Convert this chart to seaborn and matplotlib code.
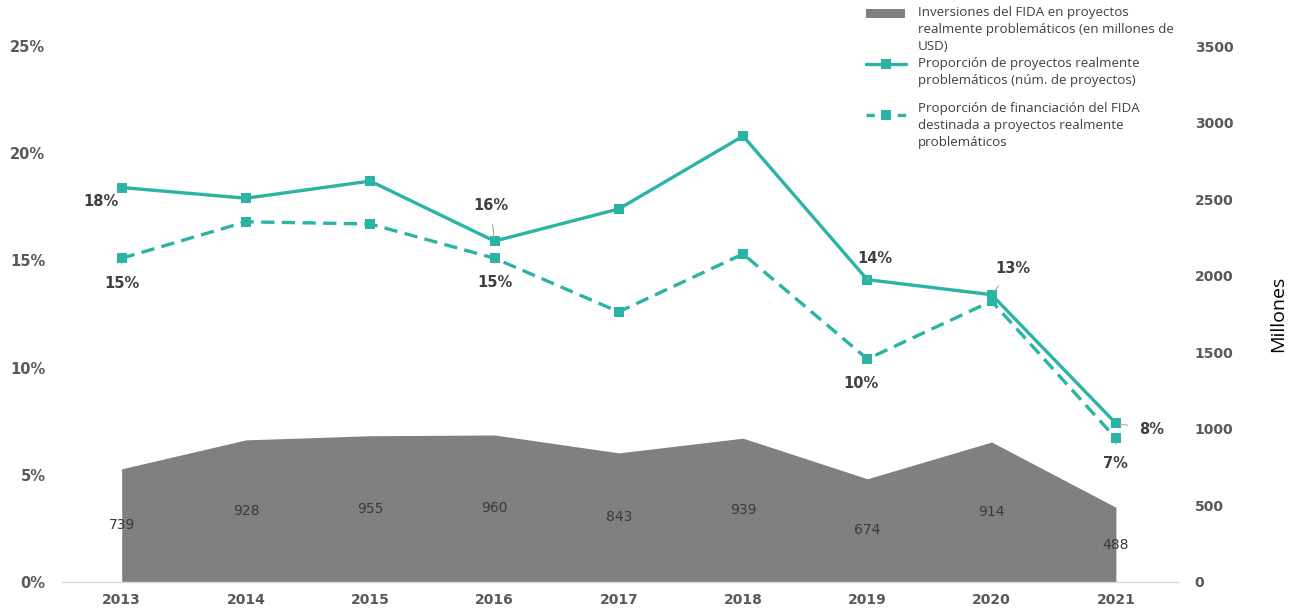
import numpy as np
import pandas as pd
import seaborn as sns
import matplotlib.pyplot as plt
from matplotlib.lines import Line2D
from matplotlib.patches import Rectangle

# ----------------------------
# Data
# ----------------------------
years = [2013, 2014, 2015, 2016, 2017, 2018, 2019, 2020, 2021]
inversion_musd = [739, 928, 955, 960, 843, 939, 674, 914, 488]
prop_proyectos = [18.4, 17.9, 18.7, 15.9, 17.4, 20.8, 14.1, 13.4, 7.4]
prop_financiacion = [15.1, 16.8, 16.7, 15.1, 12.6, 15.3, 10.4, 13.1, 6.7]

# which points carry a percentage label
labels_proyectos = {2013: "18%", 2016: "16%", 2019: "14%", 2020: "13%", 2021: "8%"}
labels_financiacion = {2013: "15%", 2016: "15%", 2019: "10%", 2021: "7%"}

legend_labels = [
    "Inversiones del FIDA en proyectos\nrealmente problemáticos (en millones de\nUSD)",
    "Proporción de proyectos realmente\nproblemáticos (núm. de proyectos)",
    "Proporción de financiación del FIDA\ndestinada a proyectos realmente\nproblemáticos",
]

left_ticks = [0, 5, 10, 15, 20, 25]
right_ticks = [0, 500, 1000, 1500, 2000, 2500, 3000, 3500]

df = pd.DataFrame({
    "year": years,
    "inversion": inversion_musd,
    "proyectos": prop_proyectos,
    "financiacion": prop_financiacion,
})

TEAL = "#2bb3a3"
GRAY = "#808080"
TICK = "#595959"
LABEL = "#404040"

sns.set_theme(style="white")
plt.rcParams["font.family"] = ["DejaVu Sans"]

fig = plt.figure(figsize=(13.03, 6.11), dpi=100)
ax = fig.add_axes([0.0476, 0.0475, 0.8565, 0.8772])
ax2 = ax.twinx()

# ----------------------------
# Area (millions, right axis)
# ----------------------------
ax2.fill_between(df["year"], 0, df["inversion"], color=GRAY, linewidth=0)
for x, v in zip(df["year"], df["inversion"]):
    ax2.text(x, v / 2, f"{v}", ha="center", va="center", fontsize=10, color="#3a3a3a")
ax2.set_ylim(0, 3500)
ax2.set_yticks(right_ticks)
ax2.set_yticklabels([str(t) for t in right_ticks], fontsize=10, fontweight="bold", color=TICK)
ax2.tick_params(axis="y", length=0, pad=12)
ax2.set_ylabel("Millones", fontsize=14, family="Open Sans", color="black", labelpad=26)

# ----------------------------
# Lines (percent, left axis)
# ----------------------------
ax.set_zorder(ax2.get_zorder() + 1)
ax.patch.set_visible(False)

sns.lineplot(data=df, x="year", y="proyectos", ax=ax, color=TEAL, linewidth=2.4,
             marker="s", markersize=7.5, markeredgewidth=0)
sns.lineplot(data=df, x="year", y="financiacion", ax=ax, color=TEAL, linewidth=2.4,
             marker="s", markersize=7.5, markeredgewidth=0, linestyle=(0, (4, 2.2)))

offsets_p = {2013: (-21, -14), 2016: (-4, 36), 2019: (8, 21), 2020: (21, 26), 2021: (36, -6)}
offsets_f = {2013: (0, -25), 2016: (0, -24), 2019: (-6, -24), 2021: (0, -25)}
for series, labs, offs in [(df["proyectos"], labels_proyectos, offsets_p),
                           (df["financiacion"], labels_financiacion, offsets_f)]:
    for yr, txt in labs.items():
        yv = series[df["year"] == yr].iloc[0]
        ax.annotate(txt, (yr, yv), xytext=offs[yr], textcoords="offset pixels",
                    ha="center", va="center", fontsize=10.5, fontweight="bold", color=LABEL,
                    arrowprops=dict(arrowstyle="-", color="#a6a6a6", lw=0.8,
                                    shrinkA=6, shrinkB=3))

ax.set_xlim(2012.52, 2021.5)
ax.set_ylim(0, 25)
ax.set_xticks(years)
ax.set_xticklabels([str(y) for y in years], fontsize=10, fontweight="bold", color=TICK)
ax.set_yticks(left_ticks)
ax.set_yticklabels([f"{t}%" for t in left_ticks], fontsize=10.5, fontweight="bold", color=TICK)
ax.tick_params(axis="y", length=0, pad=12)
ax.tick_params(axis="x", length=0, pad=8)
ax.set_xlabel("")
ax.set_ylabel("")

for a in (ax, ax2):
    for s in ("top", "left", "right"):
        a.spines[s].set_visible(False)
    a.grid(False)
ax2.spines["bottom"].set_visible(False)
ax.spines["bottom"].set_color("#d9d9d9")
ax.spines["bottom"].set_linewidth(1)

# ----------------------------
# Legend (drawn by hand, handle aligned to first text line)
# ----------------------------
W, H = fig.get_size_inches() * fig.dpi
def fx(px):
    return px / W
def fy(py):
    return 1 - py / H

fig.add_artist(Rectangle((fx(866), fy(18)), fx(905) - fx(866), 9 / H,
                         transform=fig.transFigure, color=GRAY, lw=0))
fig.add_artist(Line2D([fx(866), fx(906)], [fy(64), fy(64)], transform=fig.transFigure,
                      color=TEAL, lw=2.4))
fig.add_artist(Line2D([fx(886)], [fy(64)], transform=fig.transFigure, color=TEAL,
                      marker="s", markersize=7.5, markeredgewidth=0))
fig.add_artist(Line2D([fx(866), fx(906)], [fy(115), fy(115)], transform=fig.transFigure,
                      color=TEAL, lw=2.4, linestyle=(0, (2.5, 2.2))))
fig.add_artist(Line2D([fx(886)], [fy(115)], transform=fig.transFigure, color=TEAL,
                      marker="s", markersize=7.5, markeredgewidth=0))

for lab, top in zip(legend_labels, [6, 57, 102]):
    fig.text(fx(918), fy(top), lab, ha="left", va="top", fontsize=9.6,
             family="Open Sans", color=LABEL, linespacing=1.42)

fig.savefig("out.png", dpi=100)
